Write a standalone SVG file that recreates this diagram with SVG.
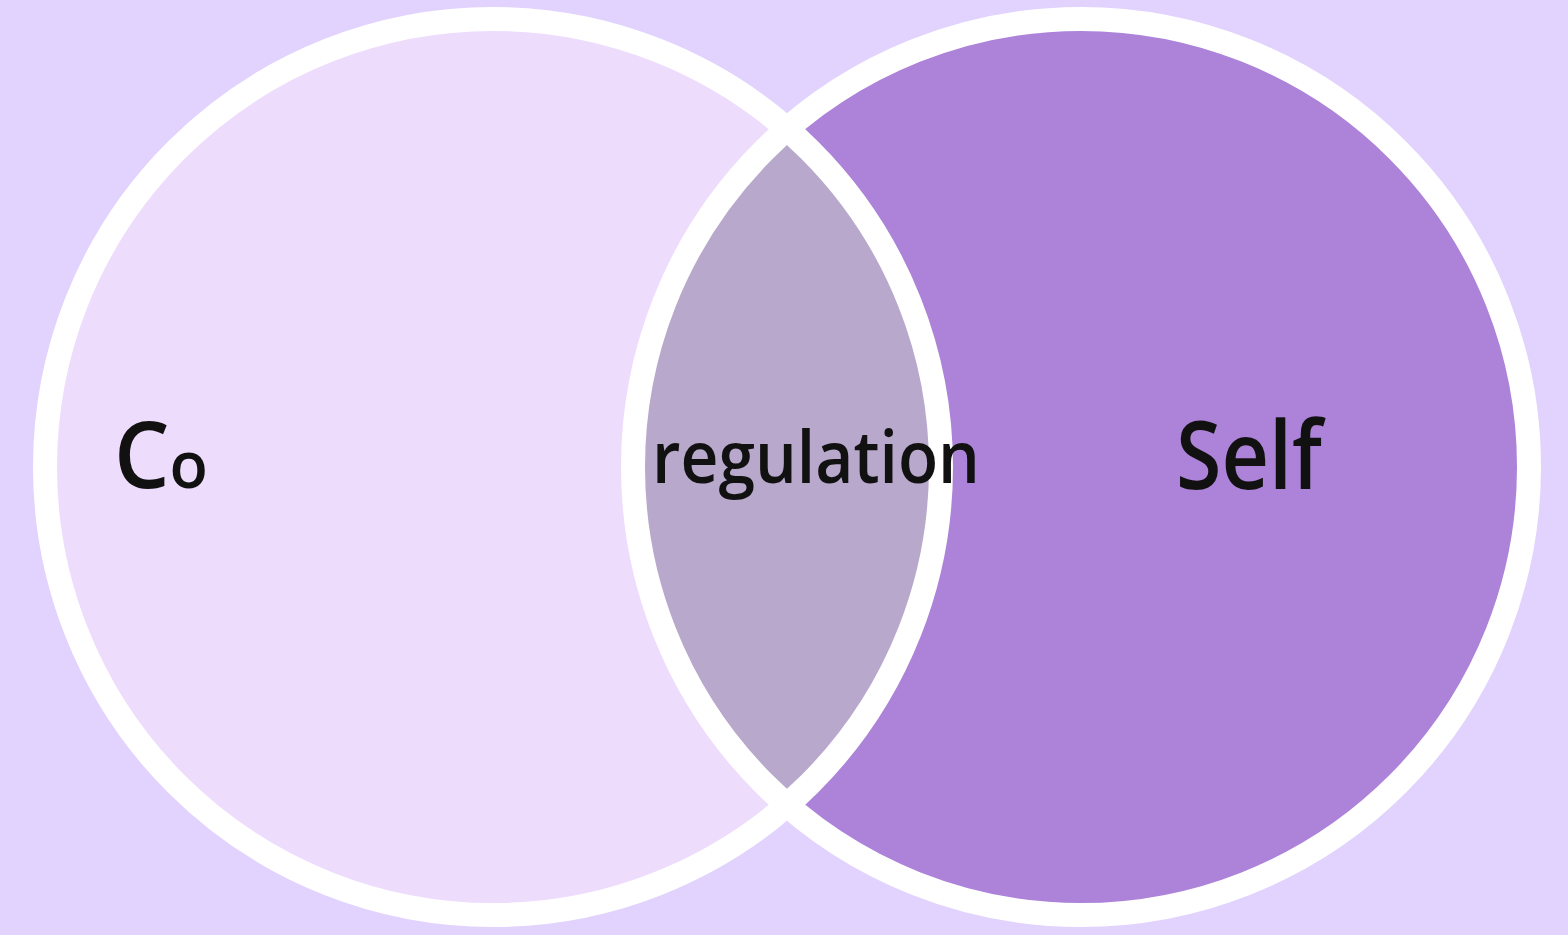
<svg xmlns="http://www.w3.org/2000/svg" width="1568" height="935" viewBox="0 0 1568 935">
  <defs>
    <style>
      .ring { fill: none; stroke: #FFFFFF; stroke-width: 24; }
      .lbl { font-family: "Open Sans", "Liberation Sans", sans-serif; font-weight: 600; fill: #111111; }
    </style>
    <clipPath id="clipLeft">
      <circle cx="493" cy="467" r="448"/>
    </clipPath>
  </defs>
  <rect x="0" y="0" width="1568" height="935" fill="#E1D3FD"/>
  <g id="set-co">
    <circle cx="493" cy="467" r="448" fill="#EEDCFD"/>
  </g>
  <g id="set-self">
    <circle cx="1081" cy="467" r="448" fill="#AC83D8"/>
  </g>
  <g id="overlap">
    <circle cx="1081" cy="467" r="448" fill="#B8A8CC" clip-path="url(#clipLeft)"/>
  </g>
  <g id="rings">
    <circle class="ring" cx="493" cy="467" r="448"/>
    <circle class="ring" cx="1081" cy="467" r="448"/>
  </g>
  <g id="labels">
    <text class="lbl" x="114" y="488" font-size="92" textLength="94" lengthAdjust="spacingAndGlyphs">C<tspan font-size="66">o</tspan></text>
    <text class="lbl" x="652" y="483" font-size="72" textLength="328" lengthAdjust="spacingAndGlyphs">regulation</text>
    <text class="lbl" x="1176" y="489" font-size="94" textLength="146" lengthAdjust="spacingAndGlyphs">Self</text>
  </g>
</svg>
